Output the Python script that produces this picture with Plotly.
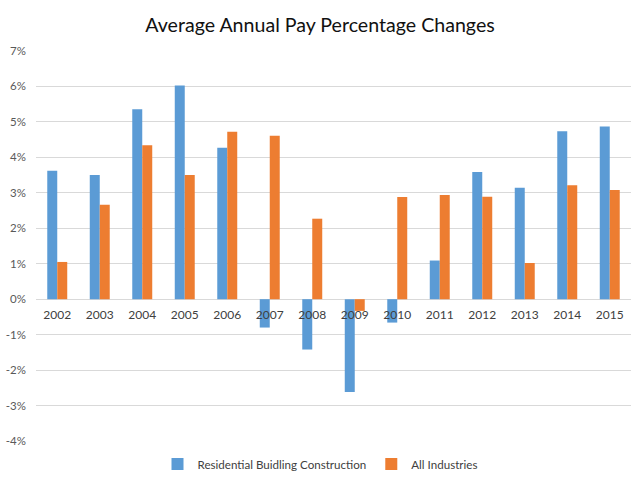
import plotly.graph_objects as go

years = ["2002", "2003", "2004", "2005", "2006", "2007", "2008", "2009",
         "2010", "2011", "2012", "2013", "2014", "2015"]
residential = [3.62, 3.50, 5.36, 6.03, 4.27, -0.80, -1.42, -2.62,
               -0.66, 1.09, 3.59, 3.14, 4.74, 4.87]
all_industries = [1.05, 2.66, 4.34, 3.50, 4.72, 4.61, 2.27, -0.33,
                  2.88, 2.94, 2.89, 1.02, 3.21, 3.08]
y_ticks = [-4, -3, -2, -1, 0, 1, 2, 3, 4, 5, 6, 7]
y_tick_text = [f"{v}%" for v in y_ticks]

FONT = "Lato, 'Open Sans', sans-serif"

fig = go.Figure()
fig.add_trace(go.Bar(x=years, y=residential, name="Residential Buidling Construction",
                     marker=dict(color="#5B9BD5", line=dict(width=0))))
fig.add_trace(go.Bar(x=years, y=all_industries, name="All Industries",
                     marker=dict(color="#ED7D31", line=dict(width=0))))

ymin, ymax = -4, 7
zero_pos = (0 - ymin) / (ymax - ymin)

fig.update_layout(
    width=640, height=480,
    paper_bgcolor="white", plot_bgcolor="white",
    margin=dict(l=36, r=9, t=51, b=39, autoexpand=False),
    barmode="group", bargap=0.53, bargroupgap=0,
    title=dict(text="Average Annual Pay Percentage Changes", x=0.5, xanchor="center",
               xref="container", y=1 - 25 / 480, yanchor="middle", yref="container",
               font=dict(family=FONT, size=19.6, color="#111111")),
    font=dict(family=FONT, size=12, color="#595959"),
    xaxis=dict(type="category", anchor="free", position=zero_pos, automargin=False,
               showline=False, showgrid=False, ticks="", zeroline=False,
               ticklabelstandoff=7,
               tickfont=dict(size=12, color="#404040")),
    yaxis=dict(range=[ymin, ymax], tickvals=y_ticks, ticktext=y_tick_text,
               automargin=False, ticklabelstandoff=9,
               showgrid=True, gridcolor="#D9D9D9", gridwidth=1,
               zeroline=True, zerolinecolor="#D9D9D9", zerolinewidth=1,
               showline=False, ticks="", tickfont=dict(size=11.5, color="#595959")),
    legend=dict(orientation="h", x=0.5, xanchor="center", xref="container",
                y=1 - 464 / 480, yanchor="middle", yref="container",
                font=dict(size=11.6, color="#404040"), itemwidth=30),
    showlegend=True,
)

fig.write_html("out.html", config={"displayModeBar": False},
               post_script="document.body.style.margin='0';")
